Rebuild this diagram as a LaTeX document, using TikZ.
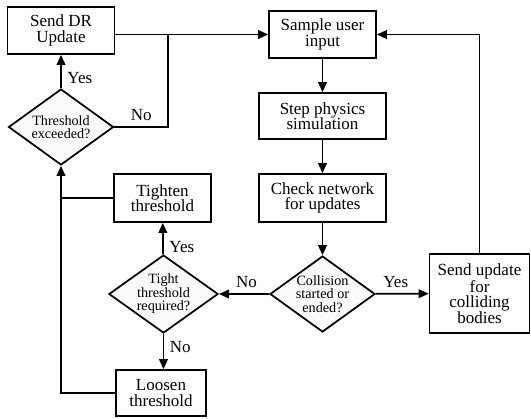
\documentclass[tikz,border=0pt]{standalone}
\usepackage{fontspec}
\setmainfont{Liberation Serif}
\usepackage{tikz}
\usetikzlibrary{positioning,shapes.geometric,arrows.meta,calc}

\begin{document}
\begin{tikzpicture}[
    x=0.6pt, y=-0.6pt,
    line width=1.05pt,
    >={Triangle[length=6pt,width=5.2pt]},
    box/.style={draw, rectangle, inner sep=0pt, align=center,
        font=\fontsize{10.2}{9.3}\selectfont},
    decision/.style={draw, diamond, aspect=1.4, inner sep=0pt, align=center,
        fill=black!2, minimum width=63pt, minimum height=45.6pt,
        font=\fontsize{8.5}{8.1}\selectfont},
    lbl/.style={font=\fontsize{10.2}{11}\selectfont}
]
    \useasboundingbox (0,0) rectangle (531,418);

    % Main loop down the middle:
    \node[box, minimum width=64.2pt, minimum height=28.2pt] (samplem) at (322.5,34.5) {Sample user\\input};
    \node[box, minimum width=76.2pt, minimum height=27.6pt] (stepm) at (322.5,116) {Step physics\\simulation};
    \node[box, minimum width=76.2pt, minimum height=28.8pt] (checkm) at (322.5,198) {Check network\\for updates};
    \node[decision] (collm) at (322.5,294) {Collision\\started or\\ended?};
    \node[box, minimum width=60pt, minimum height=47.4pt] (sendupm) at (479.5,293.5) {Send update\\for\\colliding\\bodies};

    % Threshold branch on the left:
    \node[decision] (tightm) at (163.5,294) {Tight\\threshold\\required?};
    \node[box, minimum width=58.2pt, minimum height=28.8pt] (tightenm) at (162.5,198) {Tighten\\threshold};
    \node[box, minimum width=54pt, minimum height=27.6pt] (loosenm) at (161,393) {Loosen\\threshold};
    \node[decision] (exceedm) at (61,127) {Threshold\\exceeded?};
    \node[box, minimum width=64.2pt, minimum height=28.2pt] (senddrm) at (61,30.5) {Send DR\\Update};

    \coordinate (joinm) at (168,34.5);

    \path[->]
        (samplem) edge (stepm)
        (stepm) edge (checkm)
        (checkm) edge (collm)
        (collm) edge node[lbl, above, pos=0.38] {Yes} (sendupm)
        (collm) edge node[lbl, above, pos=0.45] {No} (tightm)
        (tightm) edge node[lbl, right, pos=0.25] {Yes} (tightenm)
        (tightm.south) edge node[lbl, right, pos=0.38] {No} (tightm.south |- loosenm.north)
        (exceedm) edge node[lbl, right, pos=0.3] {Yes} (senddrm);

    \draw[->] (sendupm.north) |- (samplem.east);
    \draw (exceedm.east) -| node[lbl, above, pos=0.25] {No} (joinm);
    \draw[->] (senddrm.east |- samplem.west) -- (samplem.west);
    \draw[->] (loosenm.west) -| (exceedm.south);
    \draw (tightenm.west) -- (tightenm.west -| exceedm.south);
\end{tikzpicture}
\end{document}
